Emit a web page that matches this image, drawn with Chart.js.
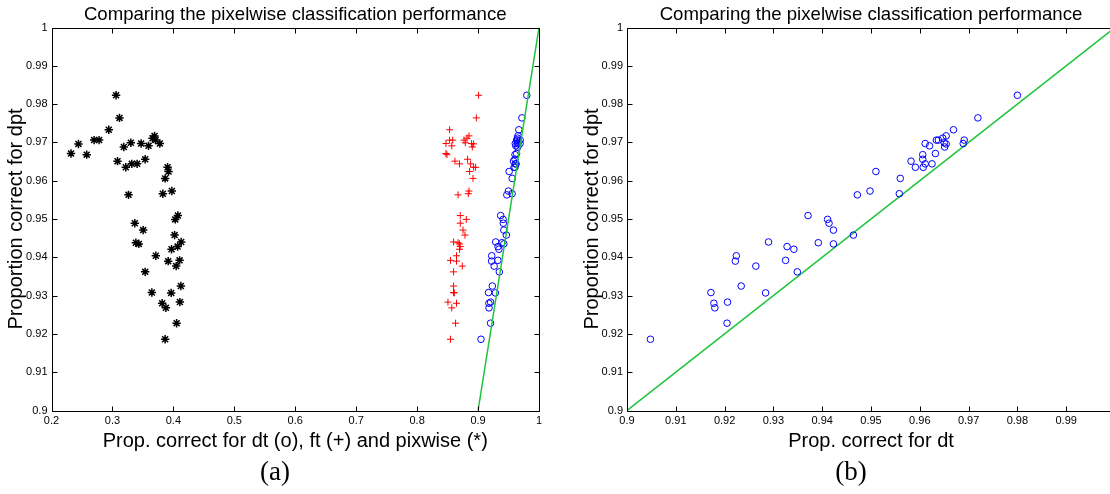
<!DOCTYPE html>
<html>
<head>
<meta charset="utf-8">
<script src="https://cdn.jsdelivr.net/npm/chart.js@4.4.1/dist/chart.umd.min.js"></script>
<style>
  html, body { margin: 0; padding: 0; background: #fff; }
  body { width: 1110px; height: 494px; overflow: hidden; position: relative; }
  canvas { position: absolute; top: 0; }
  #chartA { left: 0; }
  #chartB { left: 560px; }
  .cap { position: absolute; top: 456px; font-family: "Liberation Serif", "DejaVu Serif", serif; font-size: 27px; color: #000; transform: translateX(-50%); }
</style>
</head>
<body>
<canvas id="chartA" width="560" height="494"></canvas>
<canvas id="chartB" width="580" height="494"></canvas>
<div class="cap" style="left:275px">(a)</div>
<div class="cap" style="left:851px">(b)</div>
<script>
// proportion correct per image, one entry per test image
const dpt = [0.9823,0.9764,0.9733,0.9717,0.9711,0.9706,0.9706,0.9706,0.9699,0.9697,0.9697,0.9696,0.9691,0.9688,0.9671,0.9668,0.9656,0.9651,0.9644,0.9644,0.9635,0.9635,0.9624,0.9606,0.9573,0.9566,0.9563,0.9509,0.9499,0.9489,0.9471,0.9458,0.9440,0.9438,0.9435,0.9428,0.9421,0.9404,0.9392,0.9390,0.9377,0.9362,0.9325,0.9308,0.9307,0.9283,0.9280,0.9268,0.9228,0.9186];
const dt = [0.9800,0.9719,0.9669,0.9654,0.9647,0.9638,0.9634,0.9691,0.9650,0.9611,0.9689,0.9654,0.9620,0.9651,0.9632,0.9606,0.9606,0.9582,0.9611,0.9625,0.9591,0.9607,0.9510,0.9560,0.9498,0.9558,0.9472,0.9371,0.9411,0.9414,0.9423,0.9464,0.9290,0.9392,0.9423,0.9328,0.9342,0.9224,0.9325,0.9222,0.9264,0.9349,0.9234,0.9172,0.9284,0.9206,0.9178,0.9180,0.9205,0.9048];
const ft = [0.9009,0.8971,0.8533,0.8851,0.8818,0.8533,0.8585,0.8769,0.8791,0.8473,0.8894,0.8927,0.8569,0.8905,0.8473,0.8490,0.8828,0.8621,0.8695,0.8878,0.8927,0.8960,0.8861,0.8917,0.8851,0.8840,0.8672,0.8708,0.8807,0.8708,0.8753,0.8785,0.8598,0.8672,0.8695,0.8708,0.8695,0.8646,0.8547,0.8646,0.8741,0.8598,0.8598,0.8598,0.8610,0.8506,0.8646,0.8569,0.8631,0.8547];
const pix = [0.3060,0.3116,0.2940,0.3691,0.3658,0.3707,0.2699,0.2781,0.3302,0.3778,0.3471,0.2442,0.3592,0.3187,0.2320,0.2578,0.3537,0.3083,0.3318,0.3405,0.3219,0.3905,0.3921,0.3865,0.3975,0.3827,0.3264,0.4074,0.4030,0.3367,0.3504,0.4020,0.4128,0.3384,0.3433,0.4069,0.3970,0.3712,0.4102,0.3915,0.4046,0.3537,0.4123,0.3647,0.3964,0.4107,0.3816,0.3877,0.4053,0.3865];
const diag = [0.9, 1];

const xTicksA = [0.2,0.3,0.4,0.5,0.6,0.7,0.8,0.9,1];
const xTicksB = [0.9,0.91,0.92,0.93,0.94,0.95,0.96,0.97,0.98,0.99,1];
const yTicks = [0.9,0.91,0.92,0.93,0.94,0.95,0.96,0.97,0.98,0.99,1];

const FONT = 'Liberation Sans, Arial, Helvetica, sans-serif';
const TITLE = 'Comparing the pixelwise classification performance';
const YLABEL = 'Proportion correct for dpt';

const pts = xs => dpt.map((y, i) => ({ x: xs[i], y: y }));

// matlab style box with inward ticks on all four sides, title centred over the axes
const boxTicks = {
  id: 'boxTicks',
  afterDatasetsDraw(chart) {
    const { ctx, chartArea: a, scales: { x, y } } = chart;
    const L = Math.round(a.left) + 0.5, R = Math.round(a.right) + 0.5;
    const T = Math.round(a.top) + 0.5, B = Math.round(a.bottom) + 0.5;
    ctx.save();
    ctx.strokeStyle = '#000';
    ctx.lineWidth = 1;
    ctx.beginPath();
    x.ticks.forEach(t => {
      const px = Math.round(x.getPixelForValue(t.value)) + 0.5;
      ctx.moveTo(px, B); ctx.lineTo(px, B - 5);
      ctx.moveTo(px, T); ctx.lineTo(px, T + 5);
    });
    y.ticks.forEach(t => {
      const py = Math.round(y.getPixelForValue(t.value)) + 0.5;
      ctx.moveTo(L, py); ctx.lineTo(L + 5, py);
      ctx.moveTo(R, py); ctx.lineTo(R - 5, py);
    });
    ctx.rect(L, T, R - L, B - T);
    ctx.stroke();

    ctx.fillStyle = '#000';
    ctx.font = '18.6px ' + FONT;
    ctx.textAlign = 'center';
    ctx.textBaseline = 'alphabetic';
    ctx.fillText(TITLE, (a.left + a.right) / 2, 20);
    ctx.restore();
  }
};

function axis(min, max, tickVals, fit, titleText, titlePad) {
  return {
    type: 'linear',
    min: min,
    max: max,
    grid: { display: false, drawTicks: false },
    border: { display: false },
    afterBuildTicks: s => { s.ticks = tickVals.map(v => ({ value: v })); },
    afterFit: fit,
    ticks: {
      color: '#000',
      font: { family: FONT, size: 11 },
      padding: 4,
      autoSkip: false,
      maxRotation: 0,
      callback: v => String(v)
    },
    title: {
      display: true,
      text: titleText,
      color: '#000',
      font: { family: FONT, size: 20 },
      padding: titlePad
    }
  };
}

function lineSet(order) {
  return {
    type: 'line',
    data: diag.map(v => ({ x: v, y: v })),
    borderColor: 'rgb(30,195,60)',
    borderWidth: 1.5,
    pointRadius: 0,
    fill: false,
    order: order
  };
}

function opts(xAxis, yAxis, padRight) {
  return {
    responsive: false,
    animation: false,
    layout: { padding: { left: 0, right: padRight, top: 27.5, bottom: 0 } },
    plugins: {
      legend: { display: false },
      tooltip: { enabled: false },
      title: { display: false }
    },
    scales: { x: xAxis, y: yAxis }
  };
}

new Chart(document.getElementById('chartA'), {
  type: 'scatter',
  data: {
    datasets: [
      lineSet(0),
      { data: pts(dt), pointStyle: 'circle', pointRadius: 3.3, borderColor: '#0000ff', backgroundColor: 'rgba(0,0,0,0)', borderWidth: 1, order: 1 },
      { data: pts(ft), pointStyle: 'cross', pointRadius: 3.5, borderColor: '#ff0000', borderWidth: 1, order: 2 },
      { data: pts(pix), pointStyle: 'star', pointRadius: 4.2, borderColor: '#000', borderWidth: 1.5, order: 3 }
    ]
  },
  options: opts(
    axis(0.2, 1, xTicksA, s => { s.height = 83.5; }, 'Prop. correct for dt (o), ft (+) and pixwise (*)', { top: 0, bottom: 41 }),
    axis(0.9, 1, yTicks, s => { s.width = 51.5; }, YLABEL, { top: 4, bottom: 0 }),
    21
  ),
  plugins: [boxTicks]
});

new Chart(document.getElementById('chartB'), {
  type: 'scatter',
  data: {
    datasets: [
      lineSet(1),
      { data: pts(dt), pointStyle: 'circle', pointRadius: 3.3, borderColor: '#0000ff', backgroundColor: 'rgba(0,0,0,0)', borderWidth: 1, order: 0 }
    ]
  },
  options: opts(
    axis(0.9, 1, xTicksB, s => { s.height = 83.5; }, 'Prop. correct for dt', { top: 0, bottom: 41 }),
    axis(0.9, 1, yTicks, s => { s.width = 67; }, YLABEL, { top: 20, bottom: 0 }),
    25
  ),
  plugins: [boxTicks]
});
</script>
</body>
</html>
